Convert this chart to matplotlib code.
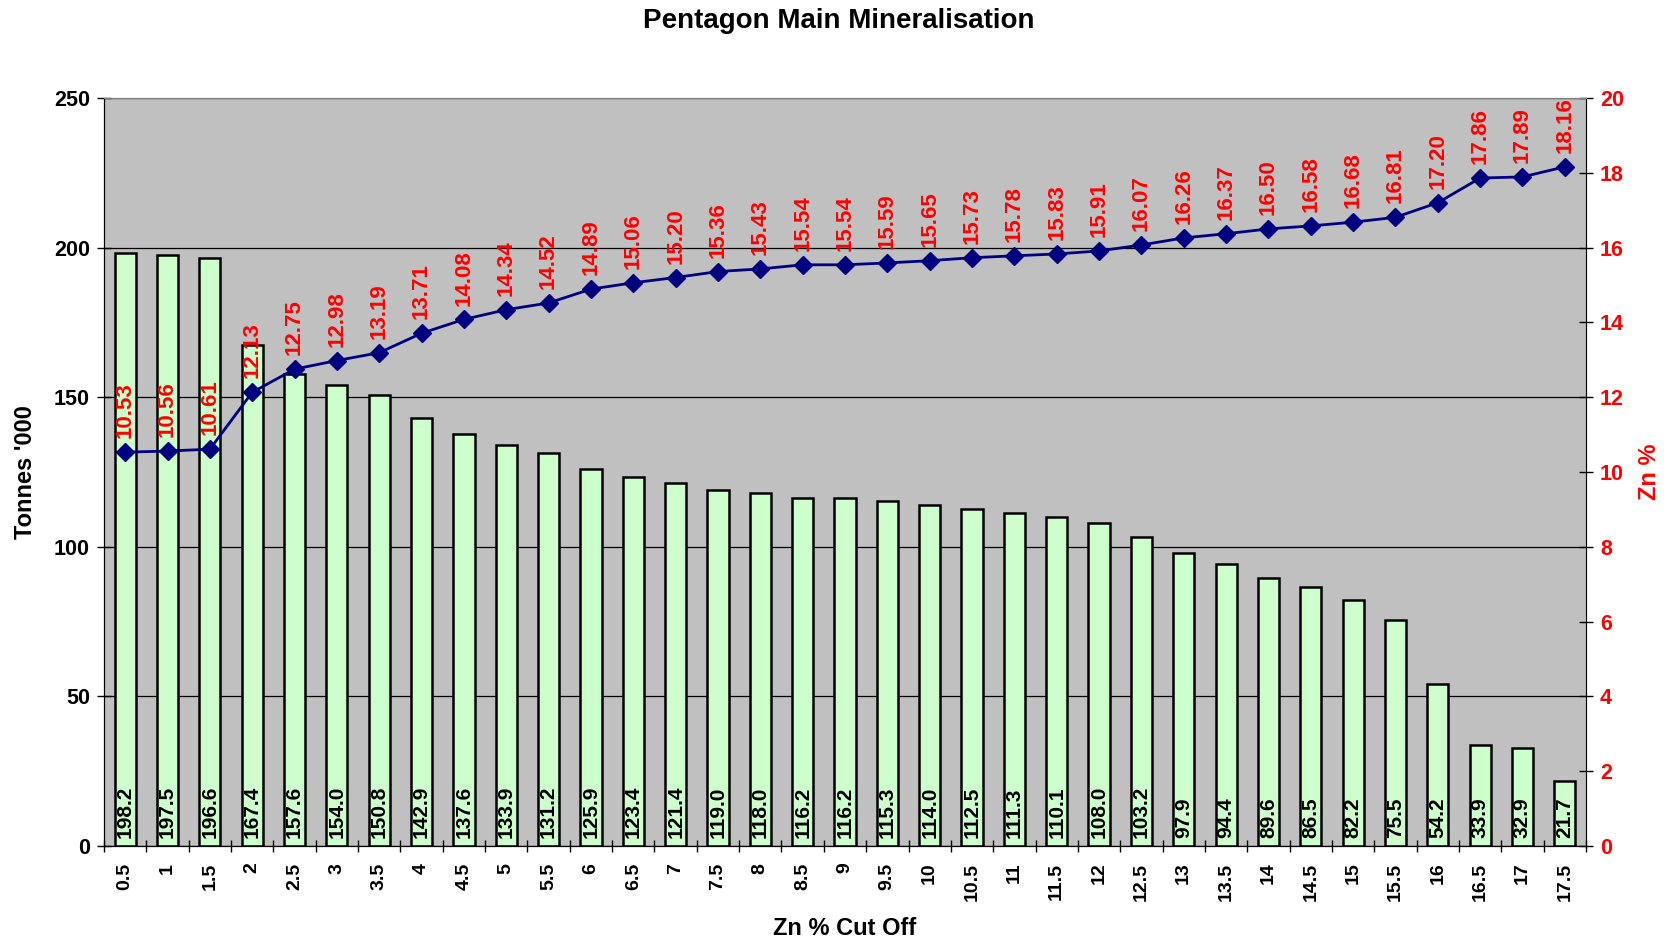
import matplotlib
matplotlib.use("Agg")
import matplotlib.pyplot as plt
import numpy as np

plt.rcParams['font.family'] = ['Liberation Sans', 'DejaVu Sans']
plt.rcParams['font.weight'] = 'bold'
plt.rcParams['axes.labelweight'] = 'bold'

cutoffs = ["0.5", "1", "1.5", "2", "2.5", "3", "3.5", "4", "4.5", "5", "5.5", "6",
           "6.5", "7", "7.5", "8", "8.5", "9", "9.5", "10", "10.5", "11", "11.5", "12",
           "12.5", "13", "13.5", "14", "14.5", "15", "15.5", "16", "16.5", "17", "17.5"]
tonnes = [198.2, 197.5, 196.6, 167.4, 157.6, 154.0, 150.8, 142.9, 137.6, 133.9, 131.2, 125.9,
          123.4, 121.4, 119.0, 118.0, 116.2, 116.2, 115.3, 114.0, 112.5, 111.3, 110.1, 108.0,
          103.2, 97.9, 94.4, 89.6, 86.5, 82.2, 75.5, 54.2, 33.9, 32.9, 21.7]
zn_grade = [10.53, 10.56, 10.61, 12.13, 12.75, 12.98, 13.19, 13.71, 14.08, 14.34, 14.52, 14.89,
            15.06, 15.20, 15.36, 15.43, 15.54, 15.54, 15.59, 15.65, 15.73, 15.78, 15.83, 15.91,
            16.07, 16.26, 16.37, 16.50, 16.58, 16.68, 16.81, 17.20, 17.86, 17.89, 18.16]

x = np.arange(len(cutoffs))

fig = plt.figure(figsize=(16.77, 9.4), dpi=100)
ax = fig.add_axes([104 / 1677, 94 / 940, 1482 / 1677, 748 / 940])
ax.set_facecolor('#C0C0C0')
ax.set_axisbelow(True)
ax.yaxis.grid(True, color='black', linewidth=0.9)

ax.bar(x, tonnes, width=0.5, color='#CCFFCC', edgecolor='black', linewidth=1.8)
for xi, t in zip(x, tonnes):
    ax.annotate(f"{t:.1f}", (xi, 0), xytext=(0, 6), textcoords='offset points',
                rotation=90, ha='center', va='bottom', fontsize=15, color='black')

ax.set_xlim(-0.5, len(cutoffs) - 0.5)
ax.set_ylim(0, 250)
ax.set_yticks([0, 50, 100, 150, 200, 250])
ax.set_xticks(x)
ax.set_xticklabels(cutoffs, rotation=90)
ax.set_xticks(np.arange(len(cutoffs) + 1) - 0.5, minor=True)
ax.tick_params(axis='x', which='major', length=0, labelsize=14, pad=12)
ax.tick_params(axis='x', which='minor', length=9, direction='inout', width=1)
ax.tick_params(axis='y', length=10, direction='inout', labelsize=15.5, width=1, pad=5)
ax.set_xlabel("Zn % Cut Off", fontsize=17, labelpad=12)
ax.set_ylabel("Tonnes '000", fontsize=17, labelpad=12)
for s in ax.spines.values():
    s.set_color('#808080')
ax.spines['left'].set_color('black')
ax.spines['bottom'].set_color('black')

ax2 = ax.twinx()
ax2.plot(x, zn_grade, color='#000080', linewidth=2, marker='D', markersize=9)
for xi, z in zip(x, zn_grade):
    ax2.annotate(f"{z:.2f}", (xi, z), xytext=(0, 10), textcoords='offset points',
                 rotation=90, ha='center', va='bottom', fontsize=16, color='red',
                 annotation_clip=False)
ax2.set_ylim(0, 20)
ax2.set_yticks(range(0, 21, 2))
ax2.tick_params(axis='y', length=10, direction='inout', labelsize=15.5, labelcolor='red',
                width=1, pad=5)
ax2.set_ylabel("Zn %", fontsize=17, color='red', labelpad=10)
ax2.spines['right'].set_color('black')
ax2.spines['top'].set_color('#808080')

fig.suptitle("Pentagon Main Mineralisation", fontsize=20, fontweight='bold', y=0.992, va='top')

fig.savefig("out.png", dpi=100)
